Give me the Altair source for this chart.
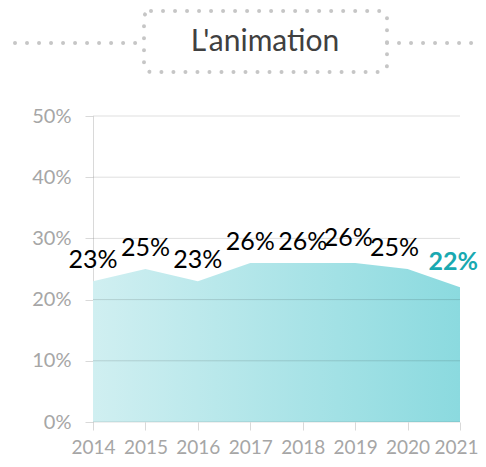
import altair as alt
import pandas as pd

years = ["2014", "2015", "2016", "2017", "2018", "2019", "2020", "2021"]
shares = [0.23, 0.25, 0.23, 0.26, 0.26, 0.26, 0.25, 0.22]
labels = ["23%", "25%", "23%", "26%", "26%", "26%", "25%", "22%"]
grid_values = [0.0, 0.1, 0.2, 0.3, 0.4, 0.5]
title_text = "L'animation"

df = pd.DataFrame({"year": years, "share": shares, "label": labels})
grid_df = pd.DataFrame({"v": grid_values})

W, H = 367, 306
FONT = "Lato"
GREY = "#a6a6a6"

x_enc = alt.X("year:O", scale=alt.Scale(type="point", padding=0),
              axis=alt.Axis(title=None, labelAngle=0, domain=False, grid=False,
                            tickColor="#d9d9d9", tickSize=8, labelColor=GREY,
                            labelFont=FONT, labelFontSize=19, labelPadding=8,
                            labelAlign=alt.expr("datum.value == '2021' ? 'right' : 'center'"),
                            labelOffset=alt.expr("datum.value == '2021' ? 18 : 0")))
y_scale = alt.Scale(domain=[0, 0.5], nice=False)

area = alt.Chart(df).mark_area(
    fill=alt.Gradient(gradient="linear", x1=0, x2=1, y1=0, y2=0,
                      stops=[alt.GradientStop(offset=0, color="#d0eff1"),
                             alt.GradientStop(offset=1, color="#8bdadf")])
).encode(
    x=x_enc,
    y=alt.Y("share:Q", scale=y_scale,
            axis=alt.Axis(title=None, values=grid_values, format=".0%", grid=False,
                          domainColor="#d9d9d9", tickColor="#d9d9d9", tickSize=8,
                          labelColor=GREY, labelFont=FONT, labelFontSize=20,
                          labelPadding=14))
)

grid = alt.Chart(grid_df).mark_rule(color="#000000", opacity=0.13, strokeWidth=1).encode(
    y=alt.Y("v:Q", scale=y_scale),
    x=alt.value(0), x2=alt.value(W)
)


def label_layer(flt, dx=0, dy=-13, **kw):
    props = dict(font=FONT, fontSize=25, color="#000000", baseline="alphabetic",
                 dx=dx, dy=dy)
    props.update(kw)
    return alt.Chart(df).transform_filter(flt).mark_text(**props).encode(
        x="year:O", y=alt.Y("share:Q", scale=y_scale), text="label:N")


txt = label_layer("indexof(['2019','2020','2021'], datum.year) < 0")
txt_2019 = label_layer("datum.year == '2019'", dx=-7, dy=-17)
txt_2020 = label_layer("datum.year == '2020'", dx=-13, dy=-13)
txt_last = label_layer("datum.year == '2021'", dx=18, dy=-17, fontWeight="bold",
                       color="#19a9b1", align="right")

deco = alt.Data(values=[{"t": title_text}])
DOT = dict(stroke="#c6c6c6", strokeWidth=4, strokeDash=[0.01, 12], strokeCap="round")

box = alt.Chart(deco).mark_rect(fill=None, cornerRadius=7, **DOT).encode(
    x=alt.value(51), x2=alt.value(294), y=alt.value(-105), y2=alt.value(-44))
line_l = alt.Chart(deco).mark_rule(**DOT).encode(
    x=alt.value(-78), x2=alt.value(51), y=alt.value(-73))
line_r = alt.Chart(deco).mark_rule(**DOT).encode(
    x=alt.value(294), x2=alt.value(385), y=alt.value(-73))
title = alt.Chart(deco).mark_text(font=FONT, fontSize=30, color="#404040",
                                  baseline="middle", align="center").encode(
    x=alt.value(172), y=alt.value(-74), text="t:N")

chart = alt.layer(area, grid, txt, txt_2019, txt_2020, txt_last,
                  box, line_l, line_r, title).properties(
    width=W, height=H,
    padding={"left": 85, "top": 108, "right": 18, "bottom": 37},
    autosize=alt.AutoSizeParams(type="none"),
).configure_view(stroke=None)

chart.save("out.html", embed_options={"renderer": "svg", "actions": False})
